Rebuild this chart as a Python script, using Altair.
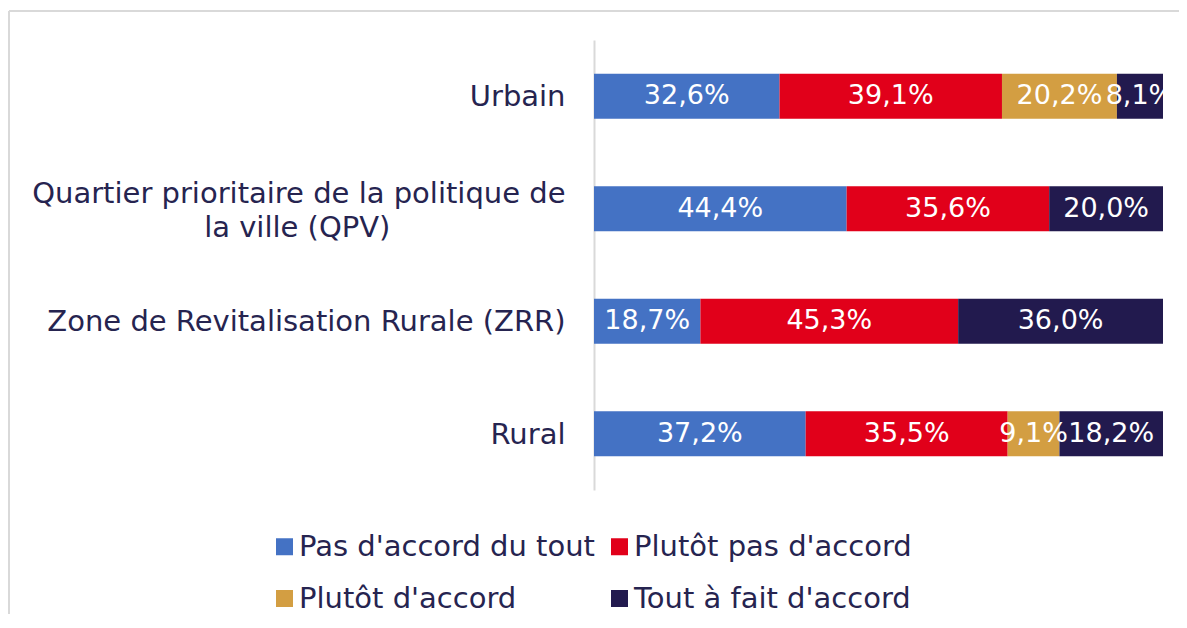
import altair as alt
import pandas as pd

categories = [
    "Urbain",
    "Quartier prioritaire de la politique de la ville (QPV)",
    "Zone de Revitalisation Rurale (ZRR)",
    "Rural",
]
responses = ["Pas d'accord du tout", "Plutôt pas d'accord", "Plutôt d'accord", "Tout à fait d'accord"]
colors = ["#4472C4", "#E1001A", "#D39E42", "#221A4E"]

urbain = [32.6, 39.1, 20.2, 8.1]
qpv = [44.4, 35.6, 0.0, 20.0]
zrr = [18.7, 45.3, 0.0, 36.0]
rural = [37.2, 35.5, 9.1, 18.2]

series = [urbain, qpv, zrr, rural]
rows = []
for cat, vals in zip(categories, series):
    for i, (resp, v) in enumerate(zip(responses, vals)):
        if v > 0:
            rows.append({"cat": cat, "resp": resp, "order": i, "value": v})
df = pd.DataFrame(rows)

FONT = "DejaVu Sans"
TXT = "#262450"
QPV = categories[1]
pad = "\u00a0" * 19 + "\u200b"
label_expr = (
    "datum.value == '" + QPV + "' ? "
    "['Quartier prioritaire de la politique de', 'la ville (QPV)" + pad + "'] : datum.value"
)

base = alt.Chart(df).transform_stack(
    stack="value", groupby=["cat"], as_=["start", "end"], sort=[alt.SortField("order")]
).transform_calculate(
    mid="(datum.start + datum.end) / 2",
    label="replace(format(datum.value, '.1f'), '.', ',') + '%'",
)

yenc = alt.Y(
    "cat:N",
    sort=categories,
    scale=alt.Scale(paddingInner=0.6, paddingOuter=0.3),
    axis=alt.Axis(
        title=None, labelFontSize=29, labelFont=FONT, labelColor=TXT, labelPadding=29,
        ticks=False, domainColor="#D9D9D9", domainWidth=2, labelLimit=0,
        labelLineHeight=34, labelExpr=label_expr,
        labelOffset={"condition": {"test": "datum.value == '" + QPV + "'", "value": -15}, "value": 1},
    ),
)

bars = base.mark_bar().encode(
    y=yenc,
    x=alt.X("start:Q", scale=alt.Scale(domain=[0, 100]), axis=None),
    x2="end:Q",
    color=alt.Color(
        "resp:N",
        scale=alt.Scale(domain=responses, range=colors),
        legend=alt.Legend(
            title=None, orient="none", legendX=-324, legendY=492, columns=2,
            direction="horizontal", padding=0,
            symbolType="square", symbolSize=289, symbolStrokeWidth=0,
            labelFontSize=29, labelFont=FONT, labelColor=TXT, labelLimit=0,
            columnPadding=10, rowPadding=22, labelOffset=0,
        ),
    ),
    order=alt.Order("order:Q"),
)

texts = base.mark_text(color="white", fontSize=27, font=FONT, clip=True).encode(
    y=alt.Y("cat:N", sort=categories),
    x=alt.X("mid:Q"),
    text="label:N",
)

frame_df = pd.DataFrame({"a": [0]})
frame_top = alt.Chart(frame_df).mark_rule(color="#D9D9D9", strokeWidth=2).encode(
    x=alt.value(-585), x2=alt.value(700), y=alt.value(-29)
)
frame_left = alt.Chart(frame_df).mark_rule(color="#D9D9D9", strokeWidth=2).encode(
    x=alt.value(-585), y=alt.value(-29), y2=alt.value(700)
)

chart = alt.layer(frame_top, frame_left, bars, texts).properties(
    width=569, height=450,
    autosize=alt.AutoSizeParams(type="none"),
    padding={"left": 586, "top": 32, "right": 16, "bottom": 124},
    background="white",
).configure_view(strokeWidth=0)

chart.save("out.html", embed_options={"renderer": "svg", "actions": False})
